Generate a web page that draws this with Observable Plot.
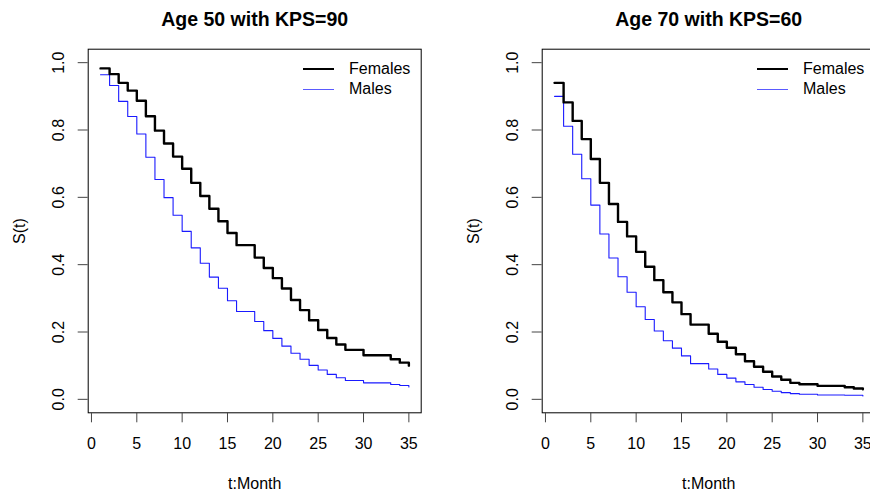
<!DOCTYPE html>
<html>
<head>
<meta charset="utf-8">
<script src="https://cdn.jsdelivr.net/npm/d3@7"></script>
<script src="https://cdn.jsdelivr.net/npm/@observablehq/plot@0.6"></script>
<style>
  html, body { margin: 0; padding: 0; background: #fff; overflow: hidden; }
  #wrap { position: relative; width: 870px; height: 495px; overflow: hidden; font-family: "Liberation Sans", Arial, sans-serif; }
  .panel { position: absolute; top: 0; width: 435px; height: 495px; }
  .leg-line { position: absolute; left: 303px; width: 31px; }
  .leg-text { position: absolute; left: 349px; font-size: 16px; line-height: 20px; color: #000; }
</style>
</head>
<body>
<div id="wrap"></div>
<script>
// ---- data ----
const months = [1,2,3,4,5,6,7,8,9,10,11,12,13,14,15,16,17,18,19,20,21,22,23,24,25,26,27,28,29,30,31,32,33,34,35];

const titles = ["Age 50 with KPS=90", "Age 70 with KPS=60"];
const seriesNames = ["Females", "Males"];

const femalesAge50 = [0.983,0.966,0.940,0.917,0.887,0.841,0.798,0.760,0.721,0.685,0.643,0.604,0.566,0.529,0.494,0.458,0.458,0.421,0.390,0.360,0.329,0.295,0.265,0.235,0.206,0.182,0.163,0.147,0.147,0.131,0.131,0.131,0.119,0.109,0.100];
const malesAge50   = [0.964,0.932,0.885,0.840,0.788,0.719,0.653,0.599,0.547,0.499,0.450,0.404,0.363,0.330,0.293,0.261,0.261,0.231,0.204,0.181,0.158,0.137,0.119,0.101,0.087,0.074,0.064,0.056,0.056,0.049,0.049,0.049,0.044,0.041,0.037];
const femalesAge70 = [0.940,0.882,0.827,0.773,0.714,0.643,0.580,0.527,0.484,0.438,0.394,0.354,0.318,0.288,0.253,0.222,0.222,0.195,0.171,0.153,0.134,0.113,0.097,0.082,0.068,0.058,0.049,0.045,0.045,0.040,0.040,0.040,0.036,0.032,0.030];
const malesAge70   = [0.900,0.811,0.728,0.655,0.577,0.491,0.420,0.364,0.318,0.275,0.237,0.203,0.174,0.152,0.129,0.106,0.106,0.090,0.074,0.063,0.052,0.044,0.036,0.029,0.024,0.020,0.017,0.015,0.015,0.013,0.013,0.013,0.012,0.012,0.010];

const xTicks = [0,5,10,15,20,25,30,35];
const yTicks = [0.0,0.2,0.4,0.6,0.8,1.0];
const xLabel = "t:Month";
const yLabel = "S(t)";

// ---- drawing ----
const FONT = "Liberation Sans, Arial, sans-serif";
const colors = {Females: "#000000", Males: "#1a1aff"};

function panel(title, fem, mal) {
  const f = months.map((t, i) => ({t, s: fem[i]}));
  const m = months.map((t, i) => ({t, s: mal[i]}));
  return Plot.plot({
    width: 435,
    height: 495,
    marginLeft: 87.7,
    marginRight: 14.3,
    marginTop: 48.7,
    marginBottom: 82.7,
    style: {fontFamily: FONT, background: "transparent", overflow: "visible"},
    x: {domain: [-0.36, 36.36]},
    y: {domain: [-0.04, 1.04]},
    marks: [
      Plot.frame({stroke: "#000", strokeWidth: 1}),
      Plot.axisX({ticks: xTicks, tickSize: 10, tickFormat: () => "", label: null, stroke: "#444"}),
      Plot.axisY({ticks: yTicks, tickSize: 10, tickFormat: () => "", label: null, stroke: "#444"}),
      Plot.text(xTicks, {x: d => d, text: d => String(d), frameAnchor: "bottom", dy: 30.7, lineAnchor: "middle", fontSize: 16, fill: "#000"}),
      Plot.text(yTicks, {y: d => d, text: d => d.toFixed(1), frameAnchor: "left", dx: -29.5, rotate: -90, textAnchor: "middle", lineAnchor: "middle", fontSize: 16, fill: "#000"}),
      Plot.text([xLabel], {text: d => d, frameAnchor: "bottom", dy: 70.7, lineAnchor: "middle", fontSize: 16, fill: "#000"}),
      Plot.text([yLabel], {text: d => d, frameAnchor: "left", dx: -68.7, rotate: -90, textAnchor: "middle", lineAnchor: "middle", fontSize: 16, fill: "#000"}),
      Plot.text([title], {text: d => d, frameAnchor: "top", dy: -29.7, lineAnchor: "middle", fontSize: 19.5, fontWeight: "bold", fill: "#000"}),
      Plot.line(m, {x: "t", y: "s", curve: "step-after", stroke: colors.Males, strokeWidth: 1.1}),
      Plot.line(f, {x: "t", y: "s", curve: "step-after", stroke: colors.Females, strokeWidth: 2.4})
    ]
  });
}

const wrap = document.getElementById("wrap");
const panels = [
  {title: titles[0], fem: femalesAge50, mal: malesAge50, left: 0},
  {title: titles[1], fem: femalesAge70, mal: malesAge70, left: 454}
];
for (const p of panels) {
  const div = document.createElement("div");
  div.className = "panel";
  div.style.left = p.left + "px";
  div.appendChild(panel(p.title, p.fem, p.mal));
  // legend
  const legTops = [69, 89];
  seriesNames.forEach((name, i) => {
    const ln = document.createElement("div");
    ln.className = "leg-line";
    ln.style.top = (legTops[i] - (i === 0 ? 1.2 : 0.5)) + "px";
    ln.style.borderTop = (i === 0 ? "2.4px" : "1.2px") + " solid " + (i === 0 ? colors.Females : "#5a5aff");
    div.appendChild(ln);
    const tx = document.createElement("div");
    tx.className = "leg-text";
    tx.style.top = (legTops[i] - 10) + "px";
    tx.textContent = name;
    div.appendChild(tx);
  });
  wrap.appendChild(div);
}
</script>
</body>
</html>
